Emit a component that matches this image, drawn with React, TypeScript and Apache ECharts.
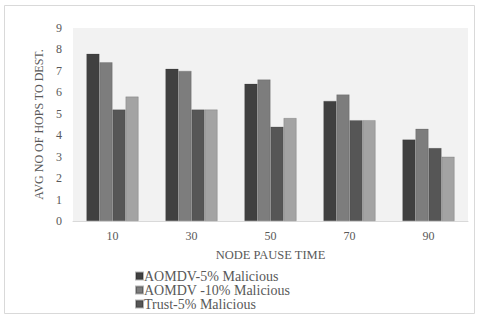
import React, { useEffect, useRef } from "react";
import * as echarts from "echarts";

const categories = ["10", "30", "50", "70", "90"];
const seriesNames = [
  "AOMDV-5% Malicious",
  "AOMDV -10% Malicious",
  "Trust-5% Malicious",
  "Trust-10% Malicious",
];
const aomdv5 = [7.8, 7.1, 6.4, 5.6, 3.8];
const aomdv10 = [7.4, 7.0, 6.6, 5.9, 4.3];
const trust5 = [5.2, 5.2, 4.4, 4.7, 3.4];
const trust10 = [5.8, 5.2, 4.8, 4.7, 3.0];
const colors = ["#404040", "#7d7d7d", "#565656", "#a3a3a3"];

export default function App() {
  const ref = useRef<HTMLDivElement>(null);
  useEffect(() => {
    if (!ref.current) return;
    const chart = echarts.init(ref.current, undefined, { renderer: "svg" });
    const font = "'Liberation Serif', 'Times New Roman', serif";
    const txt = "#595959";
    const data = [aomdv5, aomdv10, trust5, trust10];
    chart.setOption({
      animation: false,
      backgroundColor: "#ffffff",
      textStyle: { fontFamily: font },
      graphic: [
        {
          type: "rect",
          shape: { x: 4.5, y: 5.5, width: 470, height: 308 },
          style: { fill: "none", stroke: "#d9d9d9", lineWidth: 1 },
          z: -10,
        },
      ],
      grid: {
        left: 73,
        right: 12,
        top: 28,
        bottom: 99,
        show: true,
        backgroundColor: "#f2f2f2",
        borderWidth: 0,
      },
      legend: {
        orient: "vertical",
        left: 130,
        top: 264,
        data: seriesNames.slice(0, 3),
        icon: "rect",
        itemWidth: 7,
        itemHeight: 7,
        itemGap: 0,
        textStyle: {
          fontFamily: font,
          fontSize: 14,
          color: txt,
          lineHeight: 13,
          padding: [0, 0, 0, -4],
        },
      },
      xAxis: {
        type: "category",
        data: categories,
        name: "NODE PAUSE TIME",
        nameLocation: "middle",
        nameGap: 27,
        nameTextStyle: { fontFamily: font, fontSize: 12.5, color: txt },
        axisLine: { show: true, lineStyle: { color: "#d9d9d9", width: 1 } },
        axisTick: { show: false },
        axisLabel: { fontFamily: font, fontSize: 12, color: txt, margin: 9 },
      },
      yAxis: {
        type: "value",
        min: 0,
        max: 9,
        interval: 1,
        name: "AVG NO OF HOPS TO DEST.",
        nameLocation: "middle",
        nameGap: 24,
        nameRotate: 90,
        nameTextStyle: { fontFamily: font, fontSize: 12, color: txt },
        axisLine: { show: false },
        axisTick: { show: false },
        splitLine: { show: false },
        axisLabel: { fontFamily: font, fontSize: 12, color: txt, margin: 11 },
      },
      series: data.map((d, i) => ({
        type: "bar",
        name: seriesNames[i],
        data: d,
        barGap: "0%",
        barCategoryGap: "34%",
        itemStyle: {
          color: colors[i],
          borderColor: "rgba(40,40,40,0.35)",
          borderWidth: 0.5,
        },
      })),
    });
    return () => chart.dispose();
  }, []);
  return (
    <div
      ref={ref}
      style={{ position: "fixed", left: 0, top: 0, width: 480, height: 320 }}
    />
  );
}
